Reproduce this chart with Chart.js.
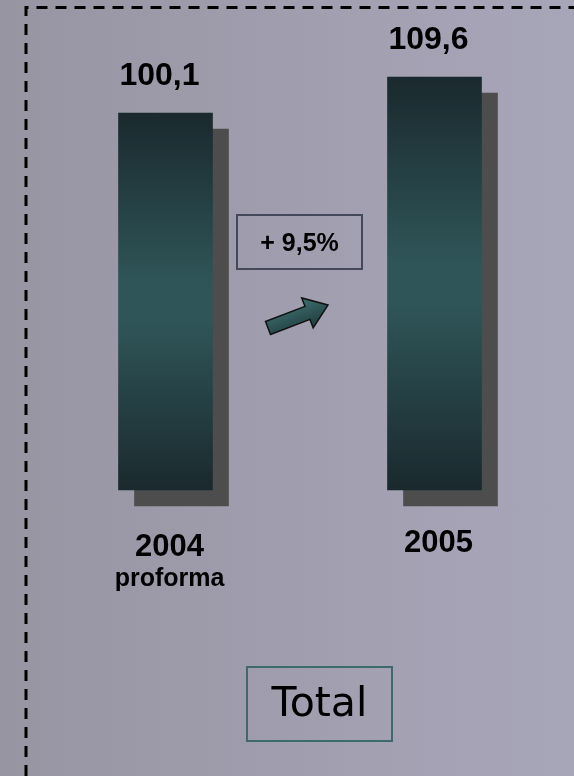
<!DOCTYPE html>
<html>
<head>
<meta charset="utf-8">
<script src="https://cdn.jsdelivr.net/npm/chart.js@4/dist/chart.umd.min.js"></script>
<style>
  html, body { margin: 0; padding: 0; }
  body {
    width: 574px; height: 776px; overflow: hidden;
    background: linear-gradient(90deg, #9795a2 0%, #a09eae 50%, #a7a5b8 100%);
  }
  canvas { display: block; }
</style>
</head>
<body>
<canvas id="total-chart" width="574" height="776"></canvas>
<script>
// Revenue totals, 2004 proforma vs 2005
const years = ['2004', '2005'];
const subLabels = ['proforma', ''];
const totals = [100.1, 109.6];
const valueLabels = ['100,1', '109,6'];
const growthLabel = '+ 9,5%';
const boxTitle = 'Total';

const ctxEl = document.querySelector('#total-chart').getContext('2d');

// vertical dark-teal-dark gradient for each bar, spanning that bar only
function barGradient(c) {
    const chart = c.chart;
    const area = chart.chartArea;
    if (!area || c.raw === undefined) return '#2f5558';
    const y0 = chart.scales.y.getPixelForValue(0);
    const y1 = chart.scales.y.getPixelForValue(c.raw);
    const g = chart.ctx.createLinearGradient(0, y1, 0, y0);
    g.addColorStop(0, '#1a292e');
    g.addColorStop(0.45, '#2f5558');
    g.addColorStop(0.55, '#2f5558');
    g.addColorStop(1, '#1a292e');
    return g;
}

// solid drop shadow behind the bars
const barShadow = {
    id: 'barShadow',
    beforeDatasetsDraw(chart) {
        const c = chart.ctx;
        c.save();
        c.shadowColor = '#4d4d4d';
        c.shadowOffsetX = 16;
        c.shadowOffsetY = 16;
        c.shadowBlur = 0;
    },
    afterDatasetsDraw(chart) {
        chart.ctx.restore();
    }
};

function drawArrow(c, x0, y0, x1, y1) {
    const ang = Math.atan2(y1 - y0, x1 - x0);
    const len = Math.hypot(x1 - x0, y1 - y0);
    const shaft = 7, head = 16, headLen = 22;
    c.save();
    c.translate(x0, y0);
    c.rotate(ang);
    c.beginPath();
    c.moveTo(0, -shaft);
    c.lineTo(len - headLen, -shaft);
    c.lineTo(len - headLen, -head);
    c.lineTo(len, 0);
    c.lineTo(len - headLen, head);
    c.lineTo(len - headLen, shaft);
    c.lineTo(0, shaft);
    c.closePath();
    const g = c.createLinearGradient(0, -head, 0, head);
    g.addColorStop(0, '#3f6f70');
    g.addColorStop(1, '#1f3b3d');
    c.fillStyle = g;
    c.fill();
    c.strokeStyle = '#111';
    c.lineWidth = 1.5;
    c.stroke();
    c.restore();
}

// labels, growth box, arrow, frame and title box
const decorations = {
    id: 'decorations',
    afterDraw(chart) {
        const c = chart.ctx;
        const x = chart.scales.x, y = chart.scales.y;
        c.save();

        // dashed frame along top and left
        c.strokeStyle = '#000';
        c.lineWidth = 3;
        c.setLineDash([11, 8]);
        c.beginPath();
        c.moveTo(26, 776);
        c.lineTo(26, 7.5);
        c.lineTo(574, 7.5);
        c.stroke();
        c.setLineDash([]);

        c.fillStyle = '#000';
        c.textAlign = 'center';
        c.textBaseline = 'middle';
        totals.forEach((v, i) => {
            const cx = x.getPixelForValue(i);
            const top = y.getPixelForValue(v);
            c.font = 'bold 32px "Liberation Sans", Arial, sans-serif';
            c.fillText(valueLabels[i], cx - 6, top - 37);
            c.font = 'bold 31px "Liberation Sans", Arial, sans-serif';
            c.fillText(years[i], cx + 4, i === 0 ? 547 : 543);
            if (subLabels[i]) {
                c.font = 'bold 25px "Liberation Sans", Arial, sans-serif';
                c.fillText(subLabels[i], cx + 4, 579);
            }
        });

        // growth box
        c.strokeStyle = '#45485a';
        c.lineWidth = 2;
        c.strokeRect(237, 215, 125, 54);
        c.font = 'bold 25px "Liberation Sans", Arial, sans-serif';
        c.fillText(growthLabel, 299.5, 244);

        drawArrow(c, 268, 328, 328, 305);

        // title box
        c.strokeStyle = '#3d6a6c';
        c.lineWidth = 2;
        c.strokeRect(247, 667, 145, 74);
        c.font = '41px "DejaVu Sans", Verdana, sans-serif';
        c.fillText(boxTitle, 319.5, 705);

        c.restore();
    }
};

const totalChart = new Chart(ctxEl, {
    type: 'bar',
    data: {
        labels: years,
        datasets: [{
            data: totals,
            backgroundColor: barGradient,
            borderWidth: 0,
            barThickness: 94,
            clip: false
        }]
    },
    options: {
        responsive: false,
        animation: false,
        layout: { padding: { left: 31, right: 5, top: 38, bottom: 286 } },
        plugins: { legend: { display: false }, tooltip: { enabled: false } },
        scales: {
            x: { display: false },
            y: { display: false, min: 0, max: 120 }
        }
    },
    plugins: [barShadow, decorations]
});
</script>
</body>
</html>
